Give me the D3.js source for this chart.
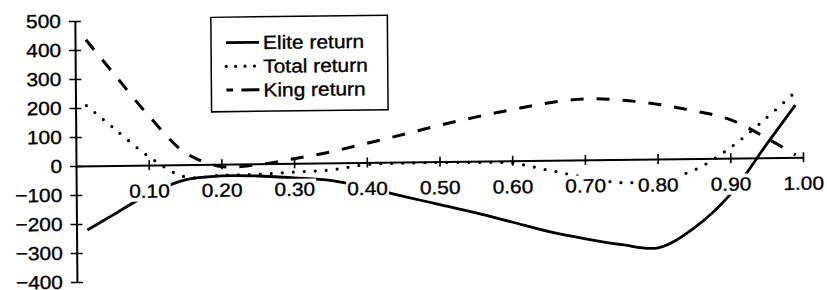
<!DOCTYPE html>
<html><head><meta charset="utf-8">
<script src="https://cdn.jsdelivr.net/npm/d3@7"></script>
<style>
html,body{margin:0;padding:0;background:#fff;}
svg{display:block;}
text{font-family:"Liberation Sans",Arial,Helvetica,sans-serif;fill:#000;stroke:#000;stroke-width:0.35px;}
</style></head><body>
<svg id="chart" width="827" height="290"></svg>
<script>
// ---- data ----
const xValues     = [0.015,0.05,0.10,0.15,0.20,0.25,0.30,0.35,0.40,0.45,0.50,0.55,0.60,0.65,0.70,0.75,0.80,0.85,0.90,0.95,0.99];
const eliteReturn = [-221,-171,-100,-52,-40,-42,-50,-60,-86,-118,-148,-178,-212,-246,-272,-294,-306,-238,-124,46,180];
const totalReturn = [208,134,30,-42,-38,-36,-30,-24,-7,-4,-3,-4,-8,-34,-60,-80,-72,-40,36,137,225];
const kingReturn  = [435,326,172,42,-8,-3,16,38,66,95,125,152,176,198,210,205,189,165,133,68,8];
const seriesNames = ["Elite return","Total return","King return"];
const xTickValues = [0.1,0.2,0.3,0.4,0.5,0.6,0.7,0.8,0.9,1.0];
const yTickValues = [-400,-300,-200,-100,0,100,200,300,400,500];

// ---- layout ----
const svg = d3.select("#chart");
const ox = 76, oy = 166;
const x = d3.scaleLinear().domain([0,1]).range([ox, 803]);
const y = d3.scaleLinear().domain([-400,500]).range([282, 21]);
const FS = 19, STRETCH = 1.1;

const g = svg.append("g")
  .attr("transform", `translate(${ox},${oy}) matrix(1,-0.012,0.008,1,0,0) translate(${-ox},${-oy})`);

const series = [
  {name: seriesNames[0], values: eliteReturn, width: 2.8, dash: null, cap: "butt"},
  {name: seriesNames[1], values: totalReturn, width: 3.2, dash: "0,11", cap: "round"},
  {name: seriesNames[2], values: kingReturn,  width: 3,   dash: "13,13", cap: "butt"}
];

const line = d3.line().x(d => x(d[0])).y(d => y(d[1])).curve(d3.curveCatmullRom.alpha(0.5));

g.selectAll("path.series").data(series).join("path")
  .attr("class","series")
  .attr("d", s => line(xValues.map((xv,i) => [xv, s.values[i]])))
  .attr("fill","none").attr("stroke","#000")
  .attr("stroke-width", s => s.width)
  .attr("stroke-dasharray", s => s.dash)
  .attr("stroke-linecap", s => s.cap)
  .attr("stroke-linejoin","round");

// ---- x axis ----
const xAxis = g.append("g").attr("transform", `translate(0,${y(0)})`)
  .call(d3.axisBottom(x).tickValues(xTickValues).tickFormat(d3.format(".2f"))
        .tickSizeInner(5).tickSizeOuter(0).tickPadding(14));
xAxis.select(".domain").attr("stroke","#000").attr("stroke-width",2);
xAxis.selectAll(".tick line").attr("y1",-5).attr("stroke","#000").attr("stroke-width",1.6);
xAxis.selectAll(".tick text").attr("font-size",FS).attr("font-family",null).attr("fill",null);

// ---- y axis ----
const yAxis = g.append("g").attr("transform", `translate(${ox},0)`)
  .call(d3.axisLeft(y).tickValues(yTickValues).tickFormat(d3.format("d"))
        .tickSizeInner(6).tickSizeOuter(0).tickPadding(8));
yAxis.select(".domain").attr("stroke","#000").attr("stroke-width",2);
yAxis.selectAll(".tick line").attr("x1",6).attr("stroke","#000").attr("stroke-width",1.6);
yAxis.selectAll(".tick text").attr("font-size",FS).attr("font-family",null).attr("fill",null);

// ---- legend ----
const lg = g.append("g");
lg.append("rect").attr("x",212).attr("y",19).attr("width",176.5).attr("height",94.5)
  .attr("fill","#fff").attr("stroke","#000").attr("stroke-width",1.5);
const legendDash = [null, "0,9.4", "6.6,8.4,18.4"];
const entries = lg.selectAll("g.entry").data(series).join("g").attr("class","entry")
  .attr("transform",(d,i)=>`translate(0,${44.5 + i*23.7})`);
entries.append("line").attr("x1",227).attr("x2",260).attr("y1",0).attr("y2",0)
  .attr("stroke","#000").attr("stroke-width",d=>d.width)
  .attr("stroke-dasharray",(d,i)=>legendDash[i]).attr("stroke-linecap",d=>d.cap);
entries.append("text").attr("x",264).attr("y",0).attr("dy","0.36em")
  .attr("font-size",FS).text(d=>d.name);

// ---- widen text to match the reference's proportions (anchor handled manually) ----
svg.selectAll("text").each(function(){
  const w = this.getComputedTextLength();
  const anchor = window.getComputedStyle(this).textAnchor || this.getAttribute("text-anchor") || "start";
  const x0 = +(this.getAttribute("x") || 0);
  const W = w*STRETCH;
  let nx = x0;
  if (anchor === "end") nx = x0 - W;
  else if (anchor === "middle") nx = x0 - W/2;
  this.setAttribute("text-anchor","start");
  this.style.textAnchor = "start";
  this.setAttribute("x", nx.toFixed(2));
  this.setAttribute("lengthAdjust","spacingAndGlyphs");
  this.setAttribute("textLength", W.toFixed(2));
});
// axis groups set text-anchor on the parent group; override there too
xAxis.attr("text-anchor","start");
yAxis.attr("text-anchor","start");

// ---- opaque backgrounds behind x tick labels ----
xAxis.selectAll(".tick").each(function(){
  const t = d3.select(this).select("text").node();
  const b = t.getBBox();
  d3.select(this).insert("rect","text")
    .attr("x",b.x-1).attr("y",b.y).attr("width",b.width+2).attr("height",b.height)
    .attr("fill","#fff");
});
</script>
</body></html>
